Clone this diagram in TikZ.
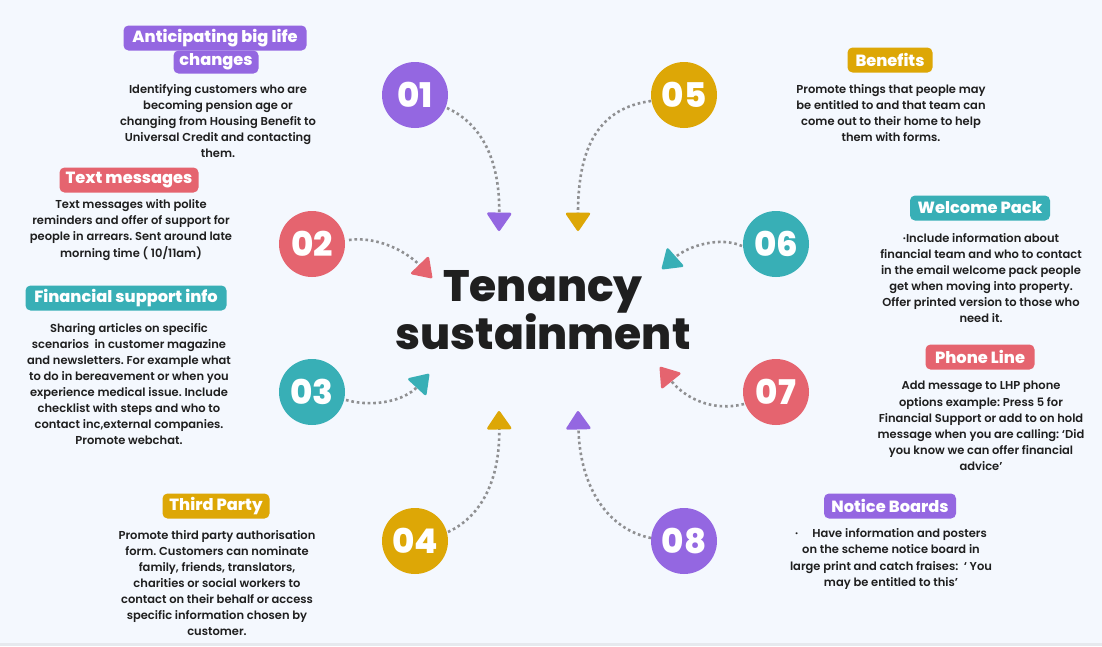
\documentclass[tikz,border=0pt]{standalone}
\usepackage{fontspec}
\setmainfont{Poppins}[UprightFont=* SemiBold, BoldFont=* Bold]
\newfontfamily\heavyfont{Poppins}[UprightFont=* ExtraBold]
\newfontfamily\titlefont{Poppins}[UprightFont=* ExtraBold]
\usetikzlibrary{arrows.meta}
\frenchspacing
\definecolor{bg}{HTML}{F4F8FE}
\definecolor{cpurple}{HTML}{9467E1}
\definecolor{cred}{HTML}{E5646F}
\definecolor{cteal}{HTML}{38AFB6}
\definecolor{cgold}{HTML}{DDA706}
\definecolor{dotgray}{HTML}{8F9092}
\definecolor{ink}{HTML}{1F1F1F}
\definecolor{bandgray}{HTML}{E6E9EE}
\tikzset{
  num/.style={circle, fill=#1, minimum size=66pt, inner sep=0pt, text=white,
    font=\heavyfont\fontsize{34}{34}\selectfont},
  lab/.style={fill=#1, rounded corners=5pt, text=white, minimum height=25pt,
    inner xsep=4pt, inner ysep=0pt, font=\heavyfont\fontsize{16.2}{17}\selectfont},
  body/.style={align=center, text=ink, inner sep=0pt,
    font=\fontsize{11.5}{16.1}\selectfont},
  conn/.style={dotgray, line width=2.6pt, dash pattern=on 2.6pt off 2.9pt},
  headc/.style={-{Triangle[width=26pt,length=19.5pt,round,color=#1,fill=#1]}},
}
\begin{document}
\begin{tikzpicture}[x=1pt,y=-1pt]
\fill[bg] (0,0) rectangle (1102,646);
\fill[bandgray] (0,643) rectangle (1102,646);
\useasboundingbox (0,0) rectangle (1102,646);

% title
\node[align=center, inner sep=0pt, text=ink, font=\titlefont\fontsize{44}{46}\selectfont] (title) at (543,310) {Tenancy\\sustainment};

% number circles
\node[num=cpurple] (n01) at (415,95) {01};
\node[num=cred] (n02) at (312,244) {02};
\node[num=cteal] (n03) at (312,392) {03};
\node[num=cgold] (n04) at (415,541) {04};
\node[num=cgold] (n05) at (684,95) {05};
\node[num=cteal] (n06) at (776,244) {06};
\node[num=cred] (n07) at (776,392) {07};
\node[num=cpurple] (n08) at (684,541) {08};

% arrow ends
\coordinate (s01) at (447,108); \coordinate (e01) at (499,231);
\coordinate (s05) at (651,101); \coordinate (e05) at (578,231);
\coordinate (s02) at (349,240); \coordinate (e02) at (432,278);
\coordinate (s06) at (742,246); \coordinate (e06) at (662,269);
\coordinate (s03) at (346,400); \coordinate (e03) at (429,374);
\coordinate (s07) at (744,404); \coordinate (e07) at (660,367);
\coordinate (s04) at (448,532); \coordinate (e04) at (499,411);
\coordinate (s08) at (651,538); \coordinate (e08) at (578,411);

\draw[conn, headc=cpurple] (s01) .. controls (478,122) and (500,155) .. (e01);
\draw[conn, headc=cgold] (s05) .. controls (600,108) and (578,145) .. (e05);
\draw[conn, headc=cred] (s02) .. controls (375,236) and (405,250) .. (e02);
\draw[conn, headc=cteal] (s06) .. controls (720,236) and (688,246) .. (e06);
\draw[conn, headc=cteal] (s03) .. controls (375,408) and (405,400) .. (e03);
\draw[conn, headc=cred] (s07) .. controls (712,412) and (685,398) .. (e07);
\draw[conn, headc=cgold] (s04) .. controls (478,518) and (500,485) .. (e04);
\draw[conn, headc=cpurple] (s08) .. controls (610,530) and (580,490) .. (e08);

% labels
\node[lab=cpurple, minimum width=183pt] (l01a) at (215,38) {Anticipating big life};
\node[lab=cpurple, minimum width=85pt, minimum height=23pt] (l01b) at (216,62) {changes};
\node[lab=cred, minimum width=139pt] (l02) at (129,180) {Text messages};
\node[lab=cteal, minimum width=201pt] (l03) at (126,298) {Financial support info};
\node[lab=cgold, minimum width=107pt] (l04) at (216,506) {Third Party};
\node[lab=cgold, minimum width=85pt] (l05) at (890,60) {Benefits};
\node[lab=cteal, minimum width=140pt] (l06) at (980,208) {Welcome Pack};
\node[lab=cred, minimum width=109pt] (l07) at (980,357) {Phone Line};
\node[lab=cpurple, minimum width=132pt] (l08) at (890,506) {Notice Boards};

% body texts
\node[body] (b01) at (218,121) {Identifying customers who are\\becoming pension age or\\changing from Housing Benefit to\\Universal Credit and contacting\\them.};
\node[body] (b02) at (131,230) {Text messages with polite\\reminders and offer of support for\\people in arrears. Sent around late\\morning time ( 10/11am)};
\node[body] (b03) at (129,384) {Sharing articles on specific\\scenarios\ \ in customer magazine\\and newsletters. For example what\\to do in bereavement or when you\\experience medical issue. Include\\checklist with steps and who to\\contact inc,external companies.\\Promote webchat.};
\node[body] (b04) at (217,583) {Promote third party authorisation\\form. Customers can nominate\\family, friends, translators,\\charities or social workers to\\contact on their behalf or access\\specific information chosen by\\customer.};
\node[body] (b05) at (891,113) {Promote things that people may\\be entitled to and that team can\\come out to their home to help\\them with forms.};
\node[body] (b06) at (981,278) {·Include information about\\financial team and who to contact\\in the email welcome pack people\\get when moving into property.\\Offer printed version to those who\\need it.};
\node[body] (b07) at (981,426) {Add message to LHP phone\\options example: Press 5 for\\Financial Support or add to on hold\\message when you are calling: ‘Did\\you know we can offer financial\\advice’};
\node[body] (b08) at (891,559) {·\hspace{14pt}Have information and posters\\on the scheme notice board in\\large print and catch fraises:\ \ ‘ You\\may be entitled to this’};
\end{tikzpicture}
\end{document}
